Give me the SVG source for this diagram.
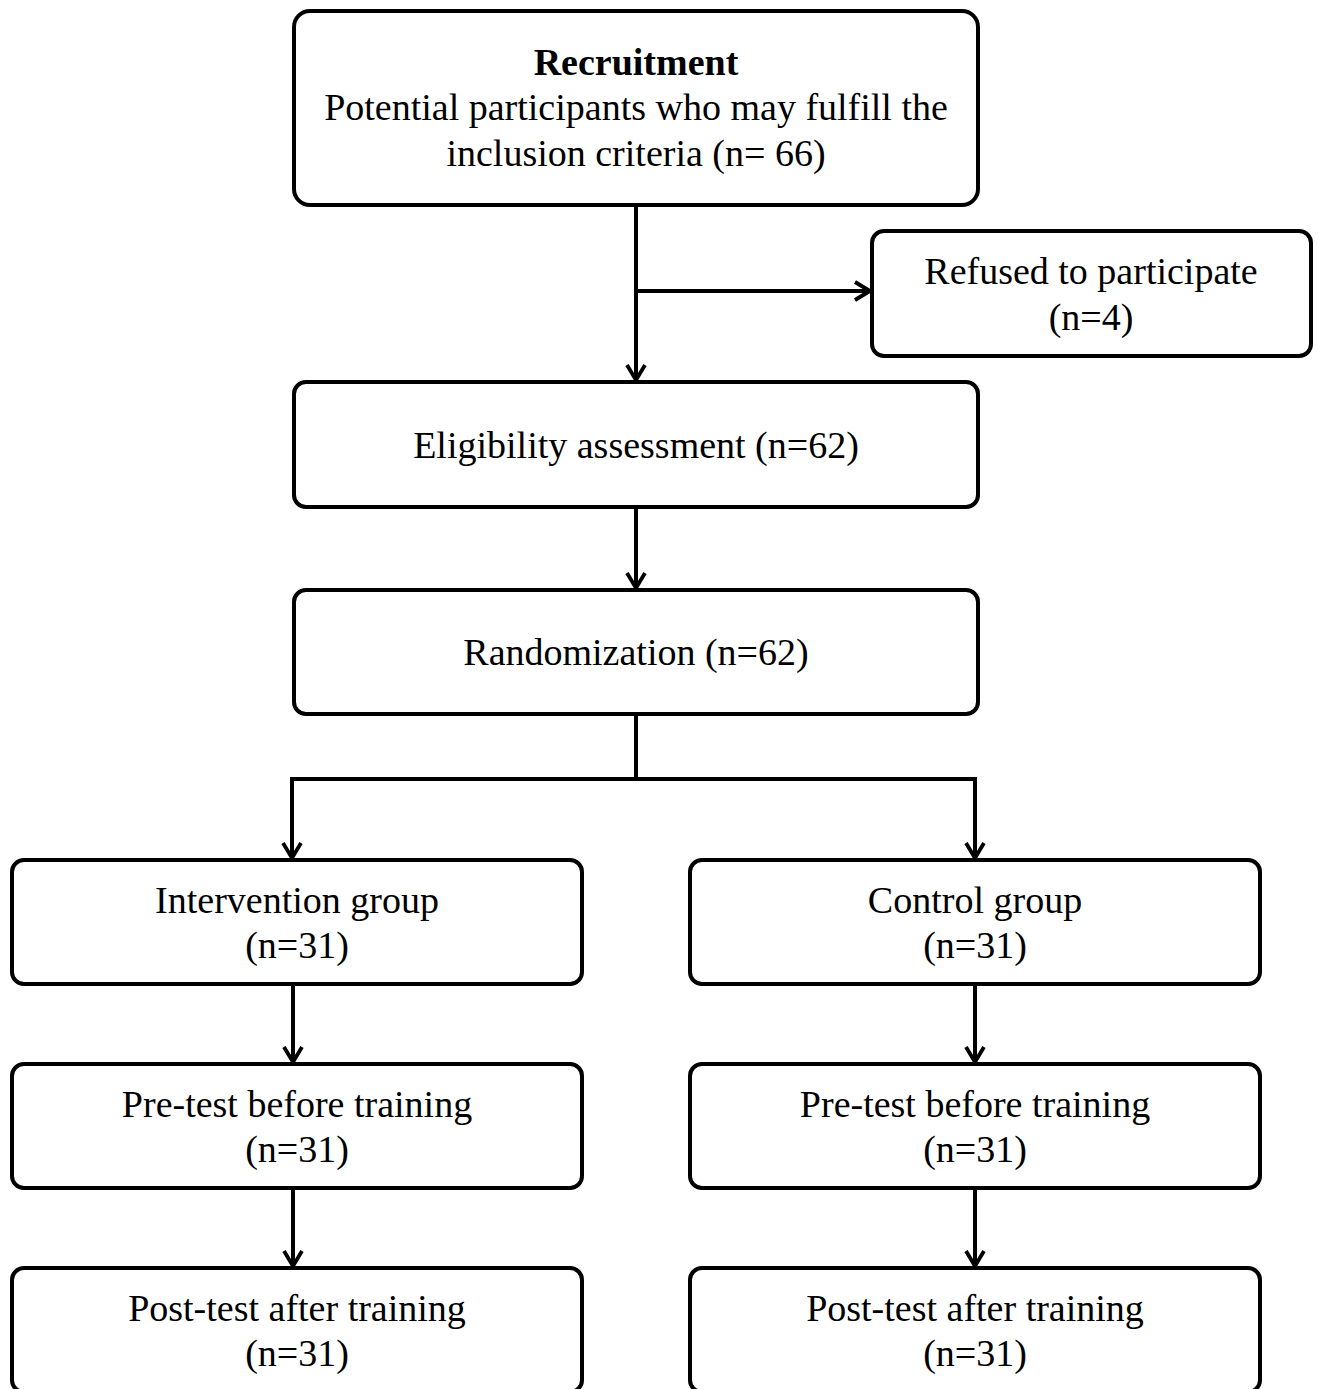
<svg xmlns="http://www.w3.org/2000/svg" width="1318" height="1389" viewBox="0 0 1318 1389">
<defs>
<style>
.box{fill:#fff;stroke:#000;stroke-width:4}
.t{font-family:"Liberation Serif","Times New Roman",serif;font-size:38px;fill:#000;text-anchor:middle}
.b{font-weight:bold}
.c{fill:none;stroke:#000;stroke-width:4}
</style>
<marker id="arr" viewBox="0 0 24 24" refX="20" refY="12" markerWidth="24" markerHeight="24" markerUnits="userSpaceOnUse" orient="auto">
<polyline points="5,3 20,12 5,21" fill="none" stroke="#000" stroke-width="3.8" stroke-linejoin="miter"/>
</marker>
</defs>
<rect width="1318" height="1389" fill="#fff"/>
<g id="connectors">
<line class="c" x1="636" y1="205" x2="636" y2="380" marker-end="url(#arr)"/>
<line class="c" x1="636" y1="291" x2="870" y2="291" marker-end="url(#arr)"/>
<line class="c" x1="636" y1="507" x2="636" y2="588" marker-end="url(#arr)"/>
<polyline class="c" points="636,714 636,779"/>
<polyline class="c" points="290,779 977,779"/>
<line class="c" x1="292" y1="779" x2="292" y2="858" marker-end="url(#arr)"/>
<line class="c" x1="975" y1="779" x2="975" y2="858" marker-end="url(#arr)"/>
<line class="c" x1="293" y1="984" x2="293" y2="1062" marker-end="url(#arr)"/>
<line class="c" x1="975" y1="984" x2="975" y2="1062" marker-end="url(#arr)"/>
<line class="c" x1="293" y1="1188" x2="293" y2="1266" marker-end="url(#arr)"/>
<line class="c" x1="975" y1="1188" x2="975" y2="1266" marker-end="url(#arr)"/>
</g>
<g id="recruitment">
<rect class="box" x="294" y="11" width="684" height="194" rx="16"/>
<text class="t b" x="636" y="75">Recruitment</text>
<text class="t" x="636" y="120">Potential participants who may fulfill the</text>
<text class="t" x="636" y="166">inclusion criteria (n= 66)</text>
</g>
<g id="refused">
<rect class="box" x="872" y="231" width="439" height="125" rx="12"/>
<text class="t" x="1091" y="284">Refused to participate</text>
<text class="t" x="1091" y="330">(n=4)</text>
</g>
<g id="eligibility">
<rect class="box" x="294" y="382" width="684" height="125" rx="12"/>
<text class="t" x="636" y="458">Eligibility assessment (n=62)</text>
</g>
<g id="randomization">
<rect class="box" x="294" y="590" width="684" height="124" rx="12"/>
<text class="t" x="636" y="665">Randomization (n=62)</text>
</g>
<g id="intervention">
<rect class="box" x="12" y="860" width="570" height="124" rx="12"/>
<text class="t" x="297" y="913">Intervention group</text>
<text class="t" x="297" y="958">(n=31)</text>
</g>
<g id="control">
<rect class="box" x="690" y="860" width="570" height="124" rx="12"/>
<text class="t" x="975" y="913">Control group</text>
<text class="t" x="975" y="958">(n=31)</text>
</g>
<g id="pretest-intervention">
<rect class="box" x="12" y="1064" width="570" height="124" rx="12"/>
<text class="t" x="297" y="1117">Pre-test before training</text>
<text class="t" x="297" y="1162">(n=31)</text>
</g>
<g id="pretest-control">
<rect class="box" x="690" y="1064" width="570" height="124" rx="12"/>
<text class="t" x="975" y="1117">Pre-test before training</text>
<text class="t" x="975" y="1162">(n=31)</text>
</g>
<g id="posttest-intervention">
<rect class="box" x="12" y="1268" width="570" height="124" rx="12"/>
<text class="t" x="297" y="1321">Post-test after training</text>
<text class="t" x="297" y="1366">(n=31)</text>
</g>
<g id="posttest-control">
<rect class="box" x="690" y="1268" width="570" height="124" rx="12"/>
<text class="t" x="975" y="1321">Post-test after training</text>
<text class="t" x="975" y="1366">(n=31)</text>
</g>
</svg>
